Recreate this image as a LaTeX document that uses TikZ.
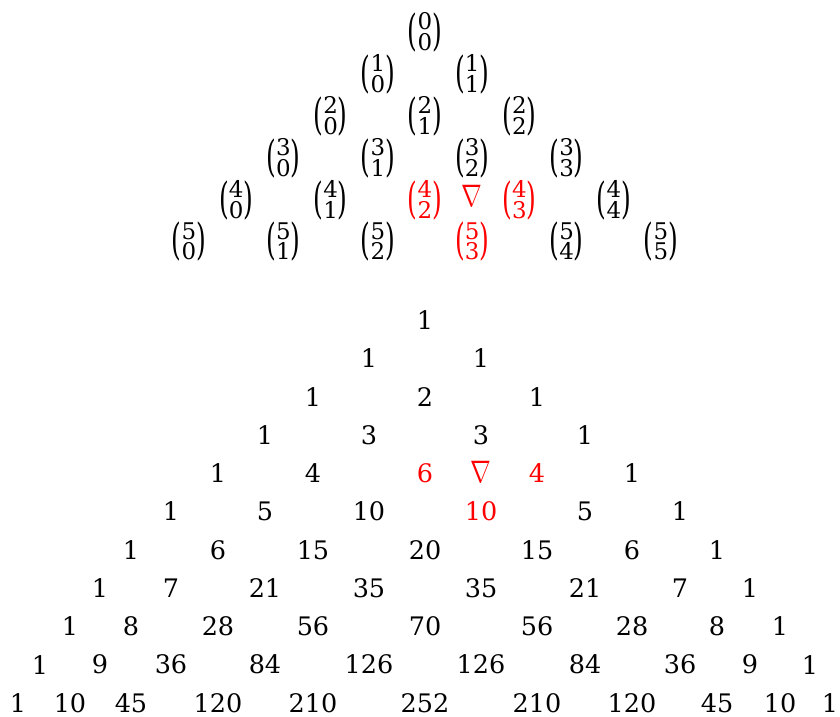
\documentclass[tikz,border=0pt]{standalone}
\usepackage{graphicx}
\usepackage{fontspec}
\setmainfont{DejaVu Serif}
\newcommand\bigpar[1]{\scalebox{1}[1.72]{\fontsize{25}{30}\selectfont #1}}
\newcommand\bnm[2]{\bigpar{(}\raisebox{-5pt}{\scalebox{0.9}{\vbox{\baselineskip=23pt\lineskiplimit=-10pt\hbox{#1}\hbox{#2}}}}\bigpar{)}}
\newcommand\nab{\scalebox{1}[1.25]{$\nabla$}}
\begin{document}
\begin{tikzpicture}[x=1pt,y=-1pt,
  lab/.style={inner sep=0pt, font=\fontsize{25.5}{30}\selectfont},
  hot/.style={lab, text=red},
  nabsty/.style={hot, font=\fontsize{25}{30}\selectfont}]
\useasboundingbox (0,0) rectangle (840,716);
% binomial triangle
\foreach \n in {0,...,5}{
  \foreach \k in {0,...,\n}{
    \pgfmathsetmacro\xx{425+(2*\k-\n)*47.2}
    \pgfmathsetmacro\yy{32+42*\n}
    \pgfmathtruncatemacro\ishot{((\n==4)&&((\k==2)||(\k==3)))||((\n==5)&&(\k==3))}
    \ifnum\ishot=1 \def\sty{hot}\else\def\sty{lab}\fi
    \node[\sty] (b-\n-\k) at (\xx,\yy) {\bnm{\n}{\k}};
  }
}
\node[nabsty] (nablaTop) at (472.2,196) {\nab};
% Pascal triangle
\foreach \r/\vals in {0/{1},1/{1,1},2/{1,2,1},3/{1,3,3,1},4/{1,4,6,4,1},5/{1,5,10,10,5,1},
  6/{1,6,15,20,15,6,1},7/{1,7,21,35,35,21,7,1},8/{1,8,28,56,70,56,28,8,1},
  9/{1,9,36,84,126,126,84,36,9,1},10/{1,10,45,120,210,252,210,120,45,10,1}}{
  \foreach \v [count=\k from 0] in \vals {
    \pgfmathtruncatemacro\cc{10-\r+2*\k}
    \pgfmathsetmacro\xx{{18,40,70,100,131,171,218,265,313,369,425,481,537,585,632,680,717,750,780,810,830}[\cc]}
    \pgfmathsetmacro\yy{320+38.3*\r}
    \pgfmathtruncatemacro\ishot{((\r==4)&&((\k==2)||(\k==3)))||((\r==5)&&(\k==3))}
    \ifnum\ishot=1 \def\sty{hot}\else\def\sty{lab}\fi
    \node[\sty] (p-\r-\k) at (\xx,\yy) {\v};
  }
}
\node[nabsty] (nablaBot) at (481,472) {\nab};
\end{tikzpicture}
\end{document}
